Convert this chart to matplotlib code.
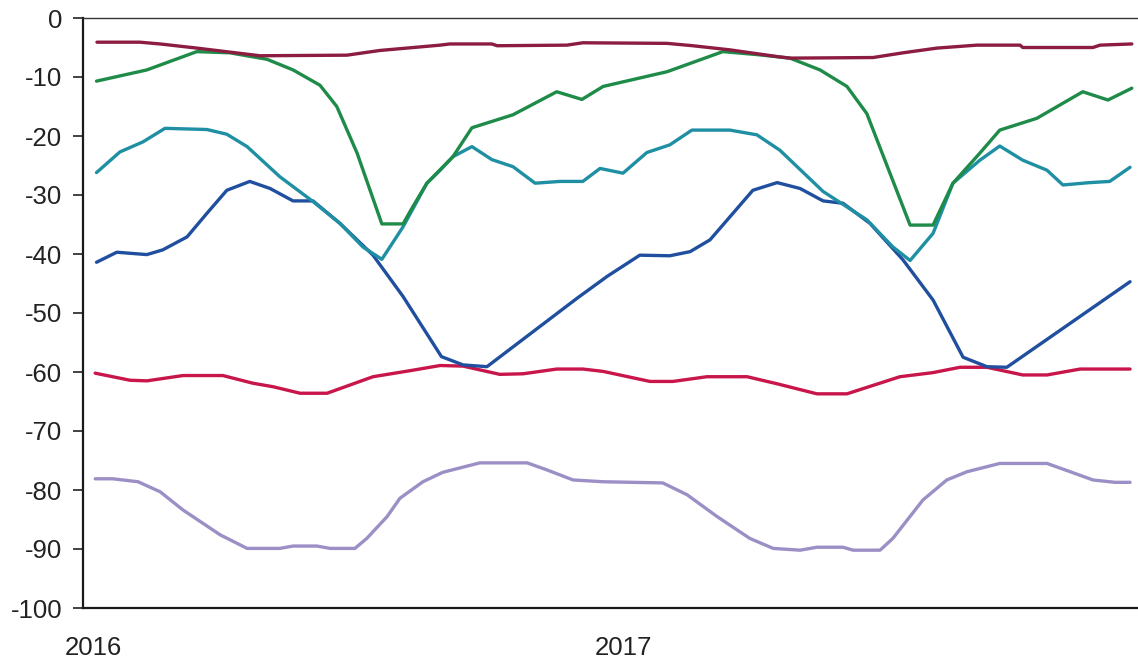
import matplotlib
matplotlib.use("Agg")
import matplotlib.pyplot as plt

# Time axis in months since January 2016
tick_pos = [0, 12]
tick_labels = ["2016", "2017"]
y_ticks = list(range(0, -101, -10))

maroon_x = [0.09, 1.06, 1.52, 2.35, 3.78, 5.75, 6.50, 7.86, 8.08, 9.03, 9.15, 10.73, 11.09,
            13.0, 13.58, 14.42, 15.55, 15.78, 17.66, 18.34, 19.11, 20.01, 20.99, 21.05,
            22.64, 22.80, 23.52]
maroon_y = [-4.1, -4.1, -4.4, -5.1, -6.4, -6.3, -5.5, -4.6, -4.4, -4.4, -4.7, -4.6, -4.2,
            -4.3, -4.7, -5.4, -6.6, -6.8, -6.7, -5.9, -5.1, -4.6, -4.6, -5.0,
            -5.0, -4.6, -4.4]

green_x = [0.08, 1.22, 2.35, 3.10, 3.94, 4.53, 5.14, 5.52, 5.98, 6.54, 7.02, 7.24, 7.56,
           8.15, 8.58, 9.51, 10.50, 11.07, 11.55, 13.00, 14.26, 15.03, 15.78, 16.46,
           17.07, 17.52, 18.50, 19.02, 19.47, 20.08, 20.53, 21.37, 22.41, 22.98, 23.52]
green_y = [-10.7, -8.8, -5.7, -5.9, -7.0, -8.8, -11.4, -15.0, -22.9, -34.9, -34.9, -32.0, -28.0,
           -23.5, -18.6, -16.4, -12.5, -13.8, -11.6, -9.1, -5.7, -6.2, -6.8, -8.8,
           -11.6, -16.2, -35.1, -35.1, -28.0, -22.9, -19.0, -17.0, -12.5, -13.9, -11.9]

teal_x = [0.08, 0.61, 1.13, 1.63, 2.58, 3.03, 3.49, 4.23, 4.98, 5.59, 6.11, 6.54, 7.02,
          7.56, 7.86, 8.15, 8.58, 9.03, 9.51, 10.01, 10.57, 11.09, 11.48, 12.00, 12.54,
          13.06, 13.56, 14.42, 15.03, 15.55, 16.53, 17.52, 18.11, 18.50, 19.02, 19.47,
          20.08, 20.53, 21.05, 21.60, 21.96, 22.57, 23.02, 23.48]
teal_y = [-26.2, -22.7, -21.0, -18.7, -18.9, -19.7, -21.8, -26.9, -31.1, -34.8, -38.8, -40.9, -35.4,
          -28.0, -25.8, -23.5, -21.8, -24.0, -25.2, -28.0, -27.7, -27.7, -25.5, -26.3, -22.8,
          -21.5, -19.0, -19.0, -19.8, -22.4, -29.4, -34.2, -38.8, -41.1, -36.5, -28.0,
          -24.1, -21.7, -24.1, -25.8, -28.3, -27.9, -27.7, -25.3]

blue_x = [0.08, 0.54, 1.22, 1.58, 2.13, 2.58, 3.03, 3.55, 4.01, 4.53, 4.98, 5.59, 6.34,
          7.02, 7.89, 8.38, 8.92, 10.96, 11.64, 12.38, 13.06, 13.52, 13.97, 14.49, 14.94,
          15.49, 16.01, 16.53, 16.98, 17.59, 18.34, 19.02, 19.70, 20.24, 20.69, 23.48]
blue_y = [-41.4, -39.7, -40.1, -39.3, -37.1, -33.1, -29.2, -27.7, -28.9, -31.0, -31.0, -34.8, -40.2,
          -47.2, -57.4, -58.8, -59.1, -47.5, -43.8, -40.2, -40.3, -39.6, -37.6, -33.1, -29.2,
          -27.9, -28.9, -31.0, -31.4, -34.8, -41.0, -47.8, -57.5, -59.1, -59.2, -44.7]

crimson_x = [0.05, 0.84, 1.22, 2.04, 2.94, 3.62, 4.08, 4.69, 5.30, 6.34, 7.24, 7.86, 8.38,
             9.21, 9.74, 10.50, 11.09, 11.55, 12.61, 13.13, 13.90, 14.81, 15.49, 16.39,
             17.07, 18.27, 19.02, 19.63, 20.24, 21.05, 21.60, 22.35, 23.14, 23.48]
crimson_y = [-60.2, -61.4, -61.5, -60.6, -60.6, -61.9, -62.5, -63.6, -63.6, -60.8, -59.7, -58.9, -59.0,
             -60.4, -60.3, -59.5, -59.5, -59.9, -61.6, -61.6, -60.8, -60.8, -62.0, -63.7,
             -63.7, -60.8, -60.1, -59.2, -59.2, -60.5, -60.5, -59.5, -59.5, -59.5]

lavender_x = [0.05, 0.45, 1.02, 1.52, 2.04, 2.88, 3.49, 4.23, 4.53, 5.07, 5.37, 5.93, 6.20,
              6.66, 6.95, 7.47, 7.92, 8.76, 9.83, 10.28, 10.87, 11.55, 12.90, 13.45, 14.13,
              14.87, 15.40, 16.01, 16.39, 16.98, 17.21, 17.82, 18.11, 18.79, 19.33, 19.79,
              20.53, 21.60, 22.05, 22.64, 23.14, 23.48]
lavender_y = [-78.1, -78.1, -78.6, -80.3, -83.4, -87.6, -89.9, -89.9, -89.5, -89.5, -89.9, -89.9, -88.2,
              -84.5, -81.4, -78.6, -77.0, -75.4, -75.4, -76.6, -78.3, -78.6, -78.8, -80.8, -84.5,
              -88.2, -89.9, -90.2, -89.7, -89.7, -90.2, -90.2, -88.2, -81.7, -78.3, -76.9,
              -75.5, -75.5, -76.7, -78.3, -78.7, -78.7]

series = [
    (lavender_x, lavender_y, "#9c8fc6"),
    (crimson_x, crimson_y, "#c8154a"),
    (blue_x, blue_y, "#1f4f9e"),
    (teal_x, teal_y, "#1f8fa4"),
    (green_x, green_y, "#1e8b48"),
    (maroon_x, maroon_y, "#8c1c40"),
]

plt.rcParams["font.family"] = ["Liberation Sans", "DejaVu Sans"]

fig = plt.figure(figsize=(11.38, 6.64), dpi=100)
ax = fig.add_axes([83 / 1138, 1 - 608 / 664, 1 - 83 / 1138, (608 - 18) / 664])

for xs, ys, color in series:
    ax.plot(xs, ys, color=color, lw=2.4, solid_joinstyle="round", solid_capstyle="round")

ax.set_ylim(-100, 0)
ax.set_xlim(-0.226, 23.66)
ax.set_yticks(y_ticks)
ax.set_yticklabels([str(v) for v in y_ticks])
ax.set_xticks(tick_pos)
ax.set_xticklabels(tick_labels)

ax.tick_params(axis="y", direction="out", length=7, width=1.2, pad=8,
               labelsize=18.5, colors="#222222")
ax.tick_params(axis="x", length=0, pad=20, labelsize=18.5, colors="#222222")

for side in ["left", "bottom"]:
    ax.spines[side].set_linewidth(1.6)
    ax.spines[side].set_color("#1a1a1a")
ax.spines["top"].set_linewidth(1.0)
ax.spines["top"].set_color("#333333")
ax.spines["right"].set_visible(False)

fig.savefig("out.png", dpi=100)
